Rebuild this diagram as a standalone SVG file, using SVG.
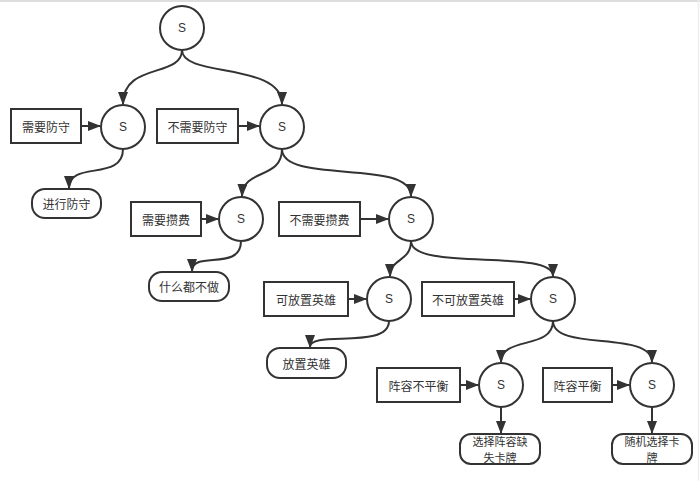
<svg xmlns="http://www.w3.org/2000/svg" width="700" height="481" viewBox="0 0 700 481">
<defs>
<marker id="ah" viewBox="0 0 13 10" refX="12" refY="5" markerWidth="13" markerHeight="10" markerUnits="userSpaceOnUse" orient="auto">
<path d="M0,0 L13,5 L0,10 z" fill="#333"/>
</marker>
<style>
.c{fill:#fff;stroke:#333;stroke-width:2}
.r{fill:#fff;stroke:#333;stroke-width:2}
.e{fill:none;stroke:#333;stroke-width:2;marker-end:url(#ah)}
.s{font-family:"Liberation Sans",Arial,sans-serif;font-size:12px;fill:#333;text-anchor:middle;dominant-baseline:central}
.t{font-family:"Noto Sans CJK SC","Liberation Sans",sans-serif;font-size:12px;fill:#333;text-anchor:middle;dominant-baseline:central}
.t2{font-family:"Noto Sans CJK SC","Liberation Sans",sans-serif;font-size:11px;fill:#333;text-anchor:middle;dominant-baseline:central}
</style>
</defs>
<rect x="0" y="0" width="700" height="481" fill="#fff"/>
<line x1="0" y1="1" x2="700" y2="1" stroke="#ddd" stroke-width="2"/>
<line x1="698.5" y1="0" x2="698.5" y2="481" stroke="#eee" stroke-width="1.5"/>
<g id="connectors">
<path class="e" d="M182,50 C182,78 123,62 123,104"/>
<path class="e" d="M182,50 C182,78 282,62 282,104"/>
<path class="e" d="M81,126 L100,126"/>
<path class="e" d="M238,126 L259,126"/>
<path class="e" d="M123,149 C123,182 69,160 69,188"/>
<path class="e" d="M282,149 C282,180 243,168 242,196"/>
<path class="e" d="M282,149 C282,185 411,158 411,196"/>
<path class="e" d="M201,219 L218,219"/>
<path class="e" d="M360,219 L388,219"/>
<path class="e" d="M241,241 C241,272 192,250 192,271"/>
<path class="e" d="M411,241 C411,262 390,258 390,276"/>
<path class="e" d="M411,241 C411,272 553,248 553,276"/>
<path class="e" d="M348,299 L366,299"/>
<path class="e" d="M514,299 L530,299"/>
<path class="e" d="M389,321 C389,350 310,330 310,347"/>
<path class="e" d="M553,321 C553,350 501,336 501,362"/>
<path class="e" d="M553,321 C553,352 652,330 652,362"/>
<path class="e" d="M460,385 L478,385"/>
<path class="e" d="M612,385 L629,385"/>
<path class="e" d="M501,407 L501,433"/>
<path class="e" d="M652,407 L652,433"/>
</g>
<g id="root"><circle class="c" cx="182" cy="28" r="22"/><text class="s" x="182" y="28">S</text></g>
<g id="s1"><circle class="c" cx="123" cy="127" r="22"/><text class="s" x="123" y="127">S</text></g>
<g id="s2"><circle class="c" cx="282" cy="127" r="22"/><text class="s" x="282" y="127">S</text></g>
<g id="s3"><circle class="c" cx="241" cy="219" r="22"/><text class="s" x="241" y="219">S</text></g>
<g id="s4"><circle class="c" cx="411" cy="219" r="22"/><text class="s" x="411" y="219">S</text></g>
<g id="s5"><circle class="c" cx="389" cy="299" r="22"/><text class="s" x="389" y="299">S</text></g>
<g id="s6"><circle class="c" cx="553" cy="299" r="22"/><text class="s" x="553" y="299">S</text></g>
<g id="s7"><circle class="c" cx="501" cy="385" r="22"/><text class="s" x="501" y="385">S</text></g>
<g id="s8"><circle class="c" cx="652" cy="385" r="22"/><text class="s" x="652" y="385">S</text></g>
<g id="c1"><rect class="r" x="11" y="109" width="70" height="34"/><text class="t" x="46" y="126">需要防守</text></g>
<g id="c2"><rect class="r" x="157" y="109" width="81" height="34"/><text class="t" x="197.5" y="126">不需要防守</text></g>
<g id="c3"><rect class="r" x="131" y="202" width="70" height="34"/><text class="t" x="166" y="219">需要攒费</text></g>
<g id="c4"><rect class="r" x="279" y="202" width="81" height="34"/><text class="t" x="319.5" y="219">不需要攒费</text></g>
<g id="c5"><rect class="r" x="264" y="282" width="84" height="34"/><text class="t" x="306" y="299">可放置英雄</text></g>
<g id="c6"><rect class="r" x="422" y="282" width="92" height="34"/><text class="t" x="468" y="299">不可放置英雄</text></g>
<g id="c7"><rect class="r" x="377" y="368" width="83" height="34"/><text class="t" x="418.5" y="385">阵容不平衡</text></g>
<g id="c8"><rect class="r" x="543" y="368" width="69" height="34"/><text class="t" x="577.5" y="385">阵容平衡</text></g>
<g id="a1"><rect class="r" x="32" y="189" width="69" height="29" rx="13"/><text class="t" x="66.5" y="203.5">进行防守</text></g>
<g id="a2"><rect class="r" x="149" y="272" width="80" height="29" rx="13"/><text class="t" x="189" y="286.5">什么都不做</text></g>
<g id="a3"><rect class="r" x="267" y="348" width="79" height="30" rx="13"/><text class="t" x="306.5" y="363">放置英雄</text></g>
<g id="a4"><rect class="r" x="460" y="434" width="80" height="30" rx="11"/><text class="t2" x="500" y="441">选择阵容缺</text><text class="t2" x="500" y="457">失卡牌</text></g>
<g id="a5"><rect class="r" x="612" y="434" width="80" height="30" rx="11"/><text class="t2" x="652" y="441">随机选择卡</text><text class="t2" x="652" y="457">牌</text></g>
</svg>
